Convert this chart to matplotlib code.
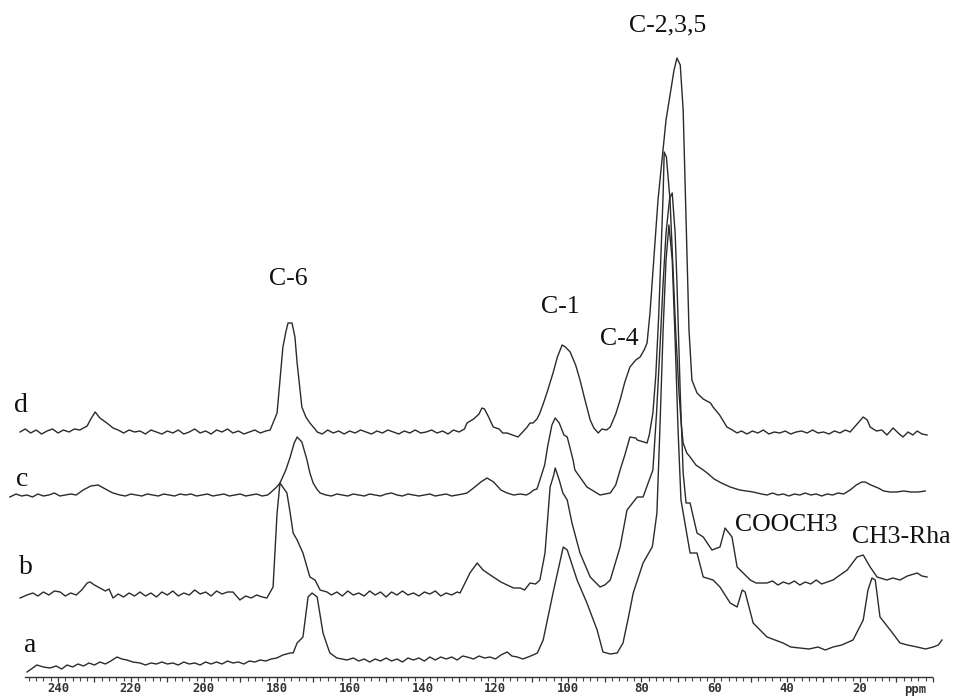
import matplotlib
matplotlib.use("Agg")
import matplotlib.pyplot as plt
from matplotlib.ticker import FixedLocator, FuncFormatter

# ---------------- data (ppm, intensity above each trace's own baseline) -------------
d_ppm = [250.4, 249, 247.5, 246, 244.5, 243, 241.5, 240, 238.5, 237, 235.5, 234, 232.0, 231, 229.8, 228.5,
         226.6, 224.9, 223.5, 222, 220.5, 219, 217.5, 216, 214.5, 213, 211.5, 210, 208.5, 207, 205.5, 204,
         202.5, 201, 199.5, 198, 196.5, 195, 193.5, 192, 190.5, 189, 187.5, 186, 184.5, 183, 181.8, 179.9,
         178.3, 177.5, 176.9, 175.8, 175, 174.4, 173.1, 172, 170.9, 169.5, 168.9, 167.5, 166, 164.5, 163,
         161.5, 160, 158.5, 157, 155.5, 154, 152.5, 151, 149.5, 148, 146.5, 145, 143.5, 142, 140.5, 139,
         137.5, 136, 134.5, 133, 131.5, 130, 128.5, 127.8, 126, 124.5, 123.7, 123, 122, 120.6, 119, 118,
         116.8, 115.3, 113.8, 112.5, 111.5, 110.5, 109.7, 108.6, 107.8, 106.9, 105.8, 104.2, 103, 101.7,
         100.8, 99.5, 98, 96.8, 95.5, 94, 93, 91.8, 90.8, 89.5, 88.5, 87, 85.8, 84.5, 83.1, 81.5, 80.3,
         79.2, 78.4, 77.6, 76.8, 76.2, 75.4, 74.3, 73.2, 72.1, 71, 70.2, 69.3, 68.5, 68, 67.4, 66.9, 66.1,
         64.7, 63, 61, 60.3, 58.5, 56.5, 55, 53.7, 52.5, 51, 49.5, 48, 46.5, 45, 43.5, 42, 40.5, 39, 37.5,
         36, 34.5, 33, 31.5, 30, 28.5, 27, 25.5, 24, 22.7, 21.5, 20.3, 19.1, 18, 17.2, 15.5, 14, 12.6,
         10.9, 9.5, 8.2, 6.8, 5.5, 4.3, 3, 1.6]
d_int = [0, 3, -1, 2, -2, 1, 3, -1, 2, 0, 3, 2, 6, 13, 20, 14,
         9, 4, 2, -1, 2, 0, 1, -2, 2, 0, -2, 1, -1, 2, -2, 0,
         3, -1, 1, -2, 2, 0, 3, -1, 1, -2, 0, 2, -1, 1, 2, 19,
         85, 100, 109, 109, 95, 69, 25, 15, 9, 3, 0, -2, 2, -1, 1,
         -2, 1, -1, 2, 0, -2, 1, -1, 2, 0, -2, 1, -1, 2, -1, 0,
         2, -1, 1, -2, 2, 0, 3, 9, 13, 18, 24, 23, 16, 5, 3, -1,
         -1, -3, -5, 0, 4, 9, 9, 13, 19, 28, 40, 59, 75, 87,
         85, 80, 67, 52, 33, 12, 4, -1, 3, 2, 5, 18, 32, 50, 65, 72, 75,
         82, 89, 119, 160, 192, 232, 272, 312, 337, 362, 374, 367, 322, 252, 172, 102, 52,
         39, 33, 29, 25, 17, 5, 2, -1, 1, -2, 1, -1, 2, -2, 0, -1, 1, -2, 0,
         1, -1, 2, -1, 0, -2, 1, -1, 2, 0, 5, 10, 15, 12, 5, 1, 2, -3,
         4, -1, -5, 0, -3, 1, -2, -3]

c_ppm = [253.2, 251.5, 250, 248.5, 247, 245.5, 244, 242.5, 241, 239.5, 238, 236.5, 235, 233.1, 231, 229,
         227.5, 225.5, 224.9, 223, 221.5, 220, 218.5, 217, 215.5, 214, 212.5, 211, 209.5, 208, 206.5, 205,
         203.5, 202, 200.5, 199, 197.5, 196, 194.5, 193, 191.5, 190, 188.5, 187, 185.5, 184, 182.5, 181.8,
         180, 179.1, 177.5, 176.3, 175.2, 174.4, 173.1, 171.7, 170.9, 170, 169, 168.1, 166.5, 165, 163.5,
         162, 160.5, 159, 157.5, 156, 154.5, 153, 151.5, 150, 148.5, 147, 145.5, 144, 142.5, 141, 139.5,
         138, 136.5, 135, 133.5, 132, 130.5, 129, 127.8, 126, 124, 122.3, 120.5, 118.5, 116.8, 115, 113.2,
         111.5, 110.5, 109.5, 108.6, 107.8, 106.5, 105.6, 104.5, 103.6, 102.5, 101.2, 100.3, 98.7, 98.2,
         94.9, 91.3, 88.5, 87, 85.8, 84.5, 83.1, 81.5, 81.1, 78.4, 77.8, 76.8, 76, 75.2, 74.6, 74, 73.7,
         73.1, 72.1, 71.3, 70.5, 69.6, 69, 68.5, 67.5, 66.6, 65, 63, 61.9, 60, 58, 55.6, 53, 49.3, 47,
         45.5, 44, 42.5, 41, 39.5, 38, 36.5, 35, 33.5, 32, 30.5, 29, 27.5, 26, 24.5, 22.7, 21, 19.5, 18.6,
         17, 15, 13.5, 11.7, 10, 8, 6, 4, 2.1]
c_int = [-2, 1, -1, 0, -2, 1, -1, 0, 2, -1, 0, 1, 0, 5, 9, 10,
         7, 3, 2, 0, -1, 1, 0, -1, 1, 0, -1, 1, 0, -1, 1, 0,
         1, -1, 0, 1, -1, 0, 1, -1, 0, 1, -1, 0, 1, -1, 0, 2,
         8, 12, 25, 38, 52, 58, 53, 35, 22, 12, 6, 2, 0, -1, 1,
         0, -1, 1, 0, -1, 1, 0, -1, 1, 2, 0, -1, 1, 0, -1, 0,
         1, -1, 0, 1, -1, 0, 1, 2, 7, 13, 17, 13, 5, 2, 0, 1,
         0, 2, 5, 6, 15, 30, 50, 70, 77, 72, 60, 58, 35, 25,
         8, 0, 2, 10, 25, 40, 58, 57, 55, 52, 60, 82, 120, 180, 240, 300, 343,
         338, 295, 228, 160, 100, 70, 52, 42, 38, 30, 25, 22, 16, 12, 8, 5, 3, 1,
         0, 2, 0, 1, -1, 1, 0, 2, 0, 1, -1, 1, 0, 2, 1, 5, 10, 13, 13,
         10, 7, 4, 3, 3, 4, 3, 3, 4]

b_ppm = [250.4, 248.5, 246.9, 245.5, 244, 242.5, 241, 239.4, 238, 236.5, 235, 233.5, 232, 231.2, 230, 228.5,
         227, 226, 224.9, 223.5, 222, 220.5, 219, 217.5, 216, 214.5, 213, 211.5, 210, 208.5, 207, 205.5,
         204, 202.5, 201, 199.5, 198, 196.5, 195, 193.5, 192, 190.1, 188.5, 187, 185.5, 184, 182.7, 181,
         180.5, 179.9, 179.1, 177.2, 176.3, 175.5, 174.4, 172.8, 170.9, 169.5, 168.1, 166.2, 165, 163.5,
         162, 160.5, 159, 157.5, 156, 154.5, 153, 151.5, 150, 148.5, 147, 145.5, 144, 142.5, 141, 139.5,
         138, 136.5, 135, 133.5, 132, 130.5, 129.7, 127, 125, 123.4, 120.6, 118.5, 116.8, 115, 113.2, 112,
         110.5, 109, 107.8, 106.4, 105, 104, 103.6, 102.5, 101.5, 100.3, 99, 96.8, 94, 91.3, 90, 88.5,
         85.8, 83.9, 81.1, 79.5, 76.8, 75.8, 74.8, 74, 73.2, 72.2, 71.5, 70.7, 70.2, 69.3, 68.5, 67.7,
         66.6, 64.7, 63, 60.6, 58.4, 57, 55.1, 53.7, 50.1, 48.5, 45.5, 44, 42.5, 41, 39.5, 38, 36.5, 35,
         33.5, 32, 30.5, 29, 27.4, 23.5, 20.8, 19.1, 17.2, 15.3, 12.6, 11, 9.0, 7, 4.3, 3, 1.6]
b_int = [-5, -2, 0, -3, 1, -2, 2, 1, -3, 0, -2, 3, 10, 11, 8, 5,
         2, 4, -5, -1, -4, 0, -3, 1, -3, 0, -4, 1, -2, 2, -3, 0,
         -2, 3, -1, 1, -3, 2, -1, 1, 1, -7, -3, -5, -2, -4, -5, 6,
         40, 80, 110, 100, 80, 60, 53, 40, 16, 13, 3, 1, -2, 1,
         -3, 2, -2, 0, -3, 2, -2, 1, -4, 1, -2, 2, -2, 0, -3, 1,
         -1, 2, -3, 0, -2, 1, 0, 20, 30, 23, 16, 11, 8, 5, 5, 3,
         10, 9, 13, 40, 106, 118, 125, 113, 100, 93, 70, 40, 16, 6, 8, 13,
         46, 83, 96, 96, 123, 180, 250, 310, 360, 395, 400, 360, 310, 200, 120, 90,
         90, 60, 56, 43, 46, 65, 56, 26, 13, 10, 10, 12, 8, 11, 9, 12, 8, 11,
         9, 13, 9, 11, 13, 23, 36, 38, 26, 16, 13, 15, 13, 17, 20, 17, 16]

a_ppm = [248.5, 245.8, 244, 242.2, 240.5, 239, 237.5, 236, 234.5, 233, 231.5, 230, 228.5, 227, 225.5, 223.8,
         222.5, 221.1, 219.5, 217.5, 216, 214.5, 213, 211.5, 210, 208.5, 207, 205.5, 204, 202.5, 201, 199.5,
         198, 196.5, 195, 193.5, 192, 190.5, 189, 187.5, 186, 184.5, 183, 181.5, 180, 178.3, 176.3, 175.5,
         174.4, 172.8, 171.4, 170.3, 168.9, 167.3, 166, 165.4, 163.5, 160.7, 159, 157.5, 156, 154.5, 153,
         151.5, 150, 148.5, 147, 145.5, 144, 142.5, 141, 139.5, 138, 136.5, 135, 133.5, 132, 130.5, 129,
         127.8, 126, 124.5, 123, 121.5, 120, 118.5, 116.8, 115.5, 114, 112.5, 111, 109.7, 108.5, 106.9,
         104.2, 102.8, 101.4, 100.3, 97.6, 94.9, 92.1, 90.5, 88.5, 86.6, 85, 83.5, 82.2, 79.5, 77, 76.8,
         75.7, 74.8, 74, 73.2, 72.4, 71.5, 70.7, 69.9, 69.1, 66.6, 64.7, 63, 60.3, 58.4, 55.6, 53.7, 52.3,
         51.5, 49.3, 45.5, 41.1, 39, 36.4, 34, 31.5, 29.5, 27.4, 25, 21.9, 19.1, 17.8, 16.7, 15.8, 14.5,
         11.7, 9.0, 7, 4.3, 2, -0.1, -1.5, -2.5]
a_int = [-5, 2, 0, -1, 1, -2, 2, 0, 3, 1, 4, 2, 5, 3, 6, 10,
         8, 7, 5, 4, 2, 4, 3, 5, 3, 4, 2, 5, 3, 4, 2, 5,
         3, 5, 3, 6, 4, 5, 3, 6, 5, 7, 6, 8, 9, 12, 14, 14,
         24, 30, 70, 74, 70, 34, 20, 14, 9, 7, 9, 6, 8, 5, 8,
         6, 9, 6, 8, 5, 9, 7, 9, 6, 10, 7, 10, 8, 10, 7, 11,
         10, 8, 11, 9, 10, 8, 12, 15, 11, 10, 8, 10, 12, 14, 27,
         74, 97, 120, 117, 87, 64, 37, 15, 13, 14, 24, 50, 74, 104, 120, 124,
         154, 247, 337, 407, 442, 407, 327, 237, 167, 114, 114, 90, 87, 80, 64, 60, 77,
         75, 44, 30, 24, 20, 19, 18, 20, 17, 20, 22, 27, 47, 77, 89, 87, 50,
         37, 24, 22, 20, 18, 20, 22, 27]

traces = [("d", d_ppm, d_int), ("c", c_ppm, c_int), ("b", b_ppm, b_int), ("a", a_ppm, a_int)]
offsets = {"d": 245, "c": 182, "b": 84, "a": 10}

tick_labels = ["240", "220", "200", "180", "160", "140", "120", "100", "80", "60", "40", "20"]

peak_labels = ["C-2,3,5", "C-6", "C-1", "C-4", "COOCH3", "CH3-Rha"]

# ---------------- figure ----------------
W, H = 954, 697
fig = plt.figure(figsize=(W / 100, H / 100), dpi=100)
ax = fig.add_axes([0, 0, 1, 1])
ax.set_xlim(255.91, -5.8)
ax.set_ylim(-20, 677)

line_col = "#2b2b2b"
for name, xs, ys in traces:
    off = offsets[name]
    ax.plot(xs, [v + off for v in ys], color=line_col, lw=1.0, solid_joinstyle="round")

for s in ["top", "left", "right"]:
    ax.spines[s].set_visible(False)
ax.spines["bottom"].set_position(("data", 0))
ax.spines["bottom"].set_bounds(0.2, 249)
ax.spines["bottom"].set_color("#333333")
ax.spines["bottom"].set_linewidth(1.0)
ax.set_yticks([])

major = list(range(0, 241, 10))
minor = [v for v in range(2, 249, 2) if v % 10 != 0]
ax.xaxis.set_major_locator(FixedLocator(major))
ax.xaxis.set_minor_locator(FixedLocator(minor))
lab_vals = [int(t) for t in tick_labels]
ax.xaxis.set_major_formatter(FuncFormatter(lambda v, p: str(int(round(v))) if int(round(v)) in lab_vals else ""))
ax.tick_params(axis="x", which="major", direction="out", length=3.6, width=0.9, color="#333333",
               pad=0.3, labelsize=8.8, labelcolor="#333333")
ax.tick_params(axis="x", which="minor", direction="out", length=2.6, width=0.8, color="#444444")
for t in ax.get_xticklabels():
    t.set_family("DejaVu Sans Mono")
    t.set_fontweight("bold")

ax.text(4.9, -6.5, "ppm", ha="center", va="top", fontsize=8.8, family="DejaVu Sans Mono",
        fontweight="bold", color="#333333")

# ---------------- labels ----------------
serif = "Liberation Serif"
def figtext(px, py, s, size):
    fig.text(px / W, 1 - py / H, s, ha="center", va="center", fontsize=size, family=serif, color="#111111")

label_pos = [(668, 25), (288, 279), (560, 307), (619, 339), (786, 525), (901, 537)]
for (px, py), s in zip(label_pos, peak_labels):
    figtext(px, py, s, 18.5)

letter_pos = {"d": (21, 406), "c": (22, 480), "b": (26, 567), "a": (30, 645)}
for name, (px, py) in letter_pos.items():
    figtext(px, py, name, 20)

fig.savefig("out.png", dpi=100, facecolor="white")
